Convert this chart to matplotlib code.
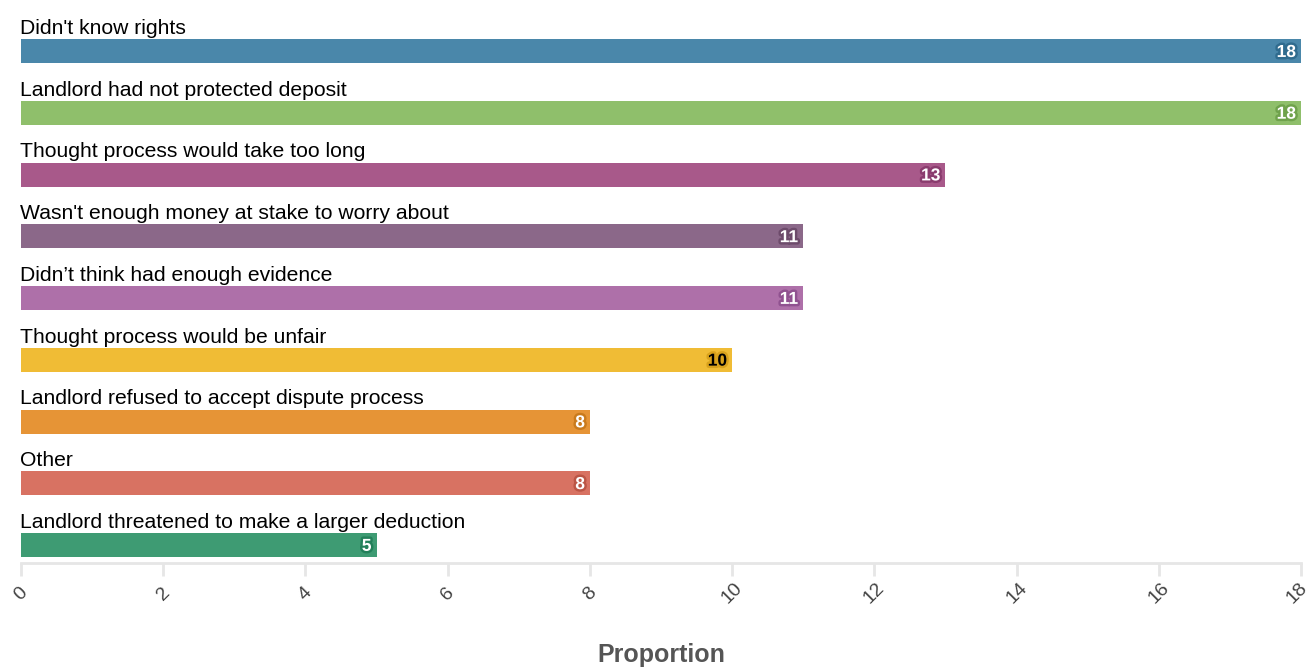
import matplotlib.pyplot as plt
import matplotlib.patheffects as pe
import matplotlib.transforms as mtransforms

categories = [
    "Didn't know rights",
    "Landlord had not protected deposit",
    "Thought process would take too long",
    "Wasn't enough money at stake to worry about",
    "Didn\u2019t think had enough evidence",
    "Thought process would be unfair",
    "Landlord refused to accept dispute process",
    "Other",
    "Landlord threatened to make a larger deduction",
]
values = [18, 18, 13, 11, 11, 10, 8, 8, 5]
colors = ["#4a87aa", "#8fbf6b", "#a8598a", "#8b6889", "#ae70a9",
          "#f0bc35", "#e69436", "#d87262", "#3e9b73"]
label_colors = ["white"] * 5 + ["black"] + ["white"] * 3
outline_colors = ["#2f6b8e", "#6fa24c", "#8a3c6e", "#6d4b6b", "#905290",
                  "#d9a21c", "#c97a1c", "#bb5545", "#23805a"]
ticks = list(range(0, 19, 2))

plt.rcParams['font.family'] = ['Liberation Sans', 'DejaVu Sans']

fig = plt.figure(figsize=(13.11, 6.68), dpi=100)
ax = fig.add_axes([21 / 1311, 1 - 563 / 668, 1280 / 1311, 555 / 668])

pos = list(range(len(categories)))
ax.barh(pos, values, height=0.39, color=colors)

for i, (cat, v) in enumerate(zip(categories, values)):
    ax.text(-0.01, i - 0.37, cat, ha="left", va="center", fontsize=15.2, color="black")
    ax.text(v - 0.07, i + 0.02, str(v), ha="right", va="center", fontsize=12.5,
            fontweight="bold", color=label_colors[i],
            path_effects=[pe.withStroke(linewidth=3.5, foreground=outline_colors[i])])

ax.set_xlim(0, 18)
ax.set_ylim(8.29, -0.70)
ax.set_yticks([])
ax.set_xticks(ticks)
ax.set_xticklabels([str(t) for t in ticks], rotation=45, fontsize=14,
                   color="#444444")
ax.tick_params(axis="x", length=9, width=2, color="#e6e6e6", pad=13)
for lbl in ax.get_xticklabels():
    lbl.set_rotation_mode("anchor")
    lbl.set_ha("center")
    lbl.set_va("center")
# nudge the last label a little so it stays inside the figure
last = ax.get_xticklabels()[-1]
last.set_transform(last.get_transform() +
                   mtransforms.ScaledTranslation(-4 / 100, 0, fig.dpi_scale_trans))

for s in ["top", "right", "left"]:
    ax.spines[s].set_visible(False)
ax.spines["bottom"].set_color("#e6e6e6")
ax.spines["bottom"].set_linewidth(2)

ax.set_xlabel("Proportion", fontsize=18, fontweight="bold", color="#555555",
              va="center")
ax.xaxis.set_label_coords(0.5, -92 / 555)

fig.savefig("out.png", dpi=100)
